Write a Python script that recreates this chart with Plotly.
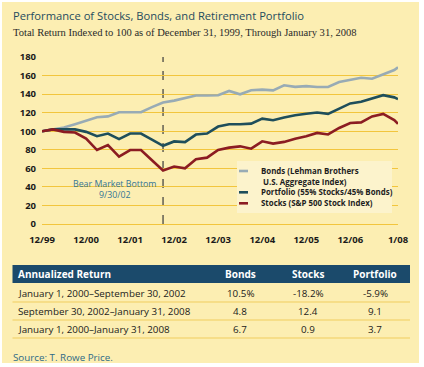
import plotly.graph_objects as go

# ---------------- data ----------------
dates = ['1999-12-31', '2000-03-31', '2000-06-30', '2000-09-30', '2000-12-31',
         '2001-03-31', '2001-06-30', '2001-09-30', '2001-12-31', '2002-03-31',
         '2002-06-30', '2002-09-30', '2002-12-31', '2003-03-31', '2003-06-30',
         '2003-09-30', '2003-12-31', '2004-03-31', '2004-06-30', '2004-09-30',
         '2004-12-31', '2005-03-31', '2005-06-30', '2005-09-30', '2005-12-31',
         '2006-03-31', '2006-06-30', '2006-09-30', '2006-12-31', '2007-03-31',
         '2007-06-30', '2007-09-30', '2007-12-31', '2008-01-31']
bonds = [100, 102, 104, 107.5, 111.5, 115, 116, 120.5, 120.5, 120.5,
         126, 131, 133, 135.5, 138.5, 138.5, 138.7, 143.4, 139.8, 144.1,
         144.8, 144.1, 149.5, 147.8, 148.6, 147.7, 147.7, 153, 155.5, 157.6,
         156.5, 161.1, 166, 168.9]
portfolio = [100, 102, 102, 102, 99.3, 94.7, 97.5, 91.5, 97.5, 97.5,
             91, 84.3, 89, 88.3, 96.4, 97.5, 105, 107.5, 107.5, 108.2,
             113.6, 111.8, 114.7, 117.2, 118.8, 120.1, 118.7, 124.7, 130, 131.8,
             135.3, 138.9, 136.5, 134.6]
stocks = [100, 102, 99.3, 98.6, 92, 79.7, 85, 72.6, 79.7, 79.7,
          68.7, 57.7, 62, 60, 69.8, 71.5, 79.8, 82.3, 83.7, 81.2,
          89.1, 86.7, 88.5, 92, 94.6, 98.2, 96.5, 103.5, 108.8, 109.5,
          115.9, 118.7, 112, 108.1]
series_names = [['Bonds (Lehman Brothers', 'U.S. Aggregate Index)'],
                ['Portfolio (55% Stocks/45% Bonds)'],
                ['Stocks (S&P 500 Stock Index)']]
x_tick_vals = ['1999-12-31', '2000-12-31', '2001-12-31', '2002-12-31', '2003-12-31',
               '2004-12-31', '2005-12-31', '2006-12-31', '2008-01-31']
x_tick_text = ['12/99', '12/00', '12/01', '12/02', '12/03', '12/04', '12/05', '12/06', '1/08']
y_tick_vals = [0, 20, 40, 60, 80, 100, 120, 140, 160, 180]
bear_date = '2002-09-30'
bear_label = 'Bear Market Bottom<br>9/30/02'

table_header = ['Annualized Return', 'Bonds', 'Stocks', 'Portfolio']
table_periods = ['January 1, 2000\u2013September 30, 2002',
                 'September 30, 2002\u2013January 31, 2008',
                 'January 1, 2000\u2013January 31, 2008']
table_bonds = ['10.5%', '4.8', '6.7']
table_stocks = ['-18.2%', '12.4', '0.9']
table_portfolio = ['-5.9%', '9.1', '3.7']

title_text = 'Performance of Stocks, Bonds, and Retirement Portfolio'
subtitle_text = 'Total Return Indexed to 100 as of December 31, 1999, Through January 31, 2008'
source_text = 'Source: T. Rowe Price.'

# ---------------- layout helpers ----------------
W, H = 424, 367
L, R, T, B = 42, 398, 57, 224   # plot area in pixels


def xp(px):
    return (px - L) / (R - L)


def yp(py):
    return (B - py) / (B - T)


BG = '#FCEEB2'
GRID = '#F2C53D'
TEAL = '#1F4C5E'
NAVY = '#1B4A6B'
SANS = 'Open Sans, Noto Sans, sans-serif'

fig = go.Figure()
colors = ['#98ABB5', '#1E4E5B', '#8B1C22']
for name, vals, col in zip(series_names, [bonds, portfolio, stocks], colors):
    fig.add_trace(go.Scatter(x=dates, y=vals, mode='lines', name=' '.join(name),
                             line=dict(color=col, width=2.6), showlegend=False))

shapes = []
annotations = []
# yellow panel
shapes.append(dict(type='rect', xref='paper', yref='paper', x0=xp(2), x1=xp(419),
                   y0=yp(363), y1=yp(2), fillcolor=BG, line=dict(width=0), layer='below'))
# bear market line
shapes.append(dict(type='line', xref='x', yref='paper', x0=bear_date, x1=bear_date,
                   y0=0, y1=1, line=dict(color='#3a3a3a', width=1.2, dash='dash'), layer='below'))

# legend box (drawn by hand to match compact spacing)
shapes.append(dict(type='rect', xref='paper', yref='paper', x0=xp(237), x1=xp(392),
                   y0=yp(213), y1=yp(161), fillcolor='#FCF3CC', line=dict(width=0)))
leg_line_y = [171, 181.7, 192.3, 203.3]
k = 0
for names, col in zip(series_names, colors):
    shapes.append(dict(type='line', xref='paper', yref='paper', x0=xp(239), x1=xp(248),
                       y0=yp(leg_line_y[k]), y1=yp(leg_line_y[k]), line=dict(color=col, width=2.6)))
    for j, part in enumerate(names):
        annotations.append(dict(xref='paper', yref='paper', x=xp(259 + (2 if j else 0)), y=yp(leg_line_y[k]),
                                text=part, showarrow=False, xanchor='left', yanchor='middle',
                                font=dict(family=SANS, size=7.9, color='#1e1e1e', weight='bold')))
        k += 1

# table header bar
shapes.append(dict(type='rect', xref='paper', yref='paper', x0=xp(12.5), x1=xp(410),
                   y0=yp(283), y1=yp(265), fillcolor=NAVY, line=dict(width=0)))
row_y = [293, 311.5, 329.5]
sep_y = [302, 320, 338]
for sy in sep_y:
    shapes.append(dict(type='line', xref='paper', yref='paper', x0=xp(12.5), x1=xp(410),
                       y0=yp(sy), y1=yp(sy), line=dict(color='#F0CD5E', width=1)))

annotations.append(dict(xref='paper', yref='paper', x=xp(11), y=yp(16), text=title_text,
                        showarrow=False, xanchor='left', yanchor='middle',
                        font=dict(family=SANS, size=11.2, color=TEAL)))
annotations.append(dict(xref='paper', yref='paper', x=xp(11), y=yp(32), text=subtitle_text,
                        showarrow=False, xanchor='left', yanchor='middle',
                        font=dict(family='Liberation Serif, serif', size=10.55, color='#2a2a2a')))
annotations.append(dict(xref='paper', yref='paper', x=xp(114.5), y=yp(189), text=bear_label,
                        showarrow=False, xanchor='center', yanchor='middle',
                        font=dict(family=SANS, size=8.8, color='#347595')))
# table header
col_x = [16, 240.5, 308, 375]
for i, h in enumerate(table_header):
    annotations.append(dict(xref='paper', yref='paper', x=xp(col_x[i]), y=yp(274), text='<b>%s</b>' % h,
                            showarrow=False, xanchor='left' if i == 0 else 'center', yanchor='middle',
                            font=dict(family=SANS, size=10, color='white')))
for r in range(3):
    cells = [table_periods[r], table_bonds[r], table_stocks[r], table_portfolio[r]]
    for i, c in enumerate(cells):
        annotations.append(dict(xref='paper', yref='paper', x=xp(col_x[i]), y=yp(row_y[r]), text=c,
                                showarrow=False, xanchor='left' if i == 0 else 'center', yanchor='middle',
                                font=dict(family=SANS, size=9.8, color='#1a1a1a')))
annotations.append(dict(xref='paper', yref='paper', x=xp(11), y=yp(357), text=source_text,
                        showarrow=False, xanchor='left', yanchor='middle',
                        font=dict(family=SANS, size=9.8, color='#2E6A86')))

fig.update_layout(
    width=W, height=H,
    margin=dict(l=L, r=W - R, t=T, b=H - B, pad=0),
    paper_bgcolor='white', plot_bgcolor='rgba(0,0,0,0)',
    showlegend=False,
    shapes=shapes, annotations=annotations,
    xaxis=dict(type='date', range=[dates[0], dates[-1]], tickvals=x_tick_vals, ticktext=x_tick_text,
               showgrid=False, zeroline=False, showline=False, ticks='',
               ticklabelstandoff=8,
               tickfont=dict(family=SANS, size=9.5, color='#1a1a1a', weight='bold')),
    yaxis=dict(range=[0, 180], tickvals=y_tick_vals, showgrid=True, gridcolor=GRID, gridwidth=1.4,
               zeroline=True, zerolinecolor=GRID, zerolinewidth=1.4, showline=False, ticks='',
               ticklabelstandoff=5,
               tickfont=dict(family=SANS, size=9.5, color='#1a1a1a', weight='bold')),
)

fig.write_html('out.html', config={'displayModeBar': False},
               post_script="document.body.style.margin='0';document.body.style.overflow='hidden';")
